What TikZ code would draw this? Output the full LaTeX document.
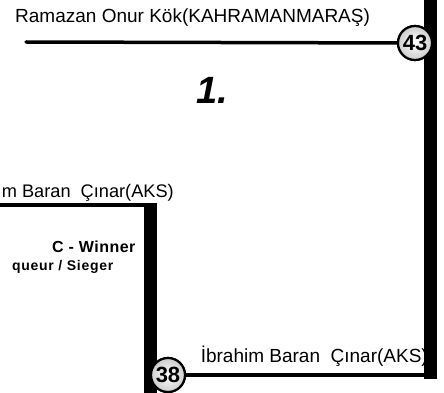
\documentclass[tikz,border=0pt]{standalone}
\usepackage{fontspec}
\setmainfont{Liberation Sans}
\usetikzlibrary{positioning}
\tikzset{
  player/.style = {inner sep=0pt, font=\fontsize{19}{19}\selectfont},
  title/.style  = {inner sep=0pt, font=\fontsize{16}{16}\selectfont\bfseries\addfontfeature{LetterSpace=3}},
  sub/.style    = {inner sep=0pt, font=\fontsize{14}{14}\selectfont\bfseries\addfontfeature{LetterSpace=5}},
  seed/.style   = {circle, draw, line width=2.2pt, inner color=white, outer color=black!20,
                  minimum size=34pt, inner sep=0pt, font=\fontsize{22}{22}\selectfont\bfseries},
  line/.style   = {line width=3.5pt, line cap=round},
  bar/.style    = {line width=13pt}
}

\begin{document}
\begin{tikzpicture}[x=1pt,y=-1pt]
\useasboundingbox (0,0) rectangle (444,393);
\coordinate (rTop) at (430,-5);
\coordinate (rBot) at (430,379);
\coordinate (rJoin) at (430,375);
\coordinate (topL) at (26,42);
\coordinate (lA) at (-5,205);
\coordinate (lB) at (150,205);
\coordinate (lTop) at (150,203);
\coordinate (lBot) at (150,400);
\draw[bar] (rTop) -- (rBot);
\draw[line] (lA) -- (lB);
\draw[bar] (lTop) -- (lBot);
\node[seed] (s43) at (415,43) {43};
\node[seed] (s38) at (168,375) {38};
\draw[line] (topL) -- (s43);
\draw[line, line cap=butt] (s38) -- (rJoin);
\node[seed] at (s43) {43};
\node[seed] at (s38) {38};
\node[player, anchor=base west] (n1) at (15,23) {Ramazan Onur Kök(KAHRAMANMARAŞ)};
\node[player, anchor=base east] (n2) at (428,362) {İbrahim Baran\ \ Çınar(AKS)};
\node[player, anchor=base east, font=\fontsize{18.2}{18.2}\selectfont] (n3) at (174,197) {m Baran\ \ Çınar(AKS)};
\node[title, anchor=base west] (n4) at (52,252) {C - Winner};
\node[sub, anchor=base west] (n5) at (12,270) {queur / Sieger};
\node[inner sep=0pt, anchor=base west, font=\fontsize{38}{38}\selectfont\bfseries\itshape] (n6) at (196,104) {1.};
\end{tikzpicture}
\end{document}
